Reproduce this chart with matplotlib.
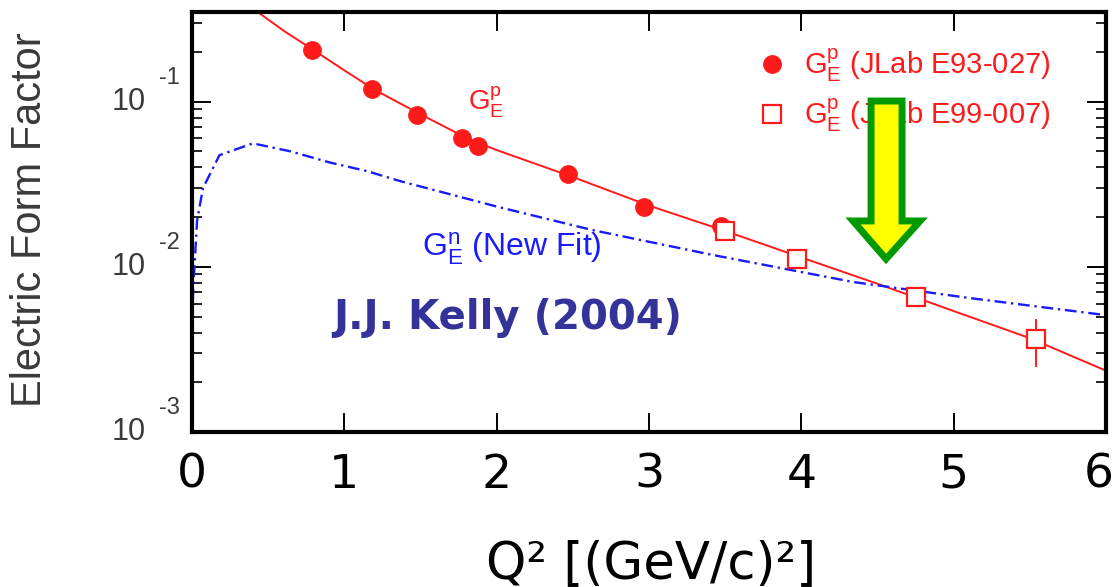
import numpy as np
import matplotlib
matplotlib.use("Agg")
import matplotlib.pyplot as plt
import matplotlib.transforms as mtransforms
from matplotlib.patches import Polygon
from matplotlib.ticker import NullFormatter, LogLocator

# JLab E93-027 recoil polarization data (filled circles)
e93_q2 = [0.79, 1.18, 1.48, 1.77, 1.88, 2.47, 2.97, 3.47]
e93_gep = [0.207, 0.120, 0.0836, 0.060, 0.0538, 0.0366, 0.0229, 0.0176]

# JLab E99-007 data (open squares)
e99_q2 = [3.50, 3.97, 4.75, 5.54]
e99_gep = [0.0164, 0.0112, 0.0066, 0.00366]
e99_err = [0.0004, 0.0004, 0.0005, 0.0012]

# Kelly fit to G_E^p (red line)
fit_q2 = [0.40, 0.45, 0.6, 0.8, 1.0, 1.2, 1.5, 1.8, 2.0, 2.5, 3.0, 3.5, 4.0, 4.5, 5.0, 5.5, 6.0]
fit_gep = [0.37, 0.34, 0.27, 0.205, 0.155, 0.118, 0.084, 0.0605, 0.051, 0.035,
           0.0235, 0.0165, 0.0114, 0.0079, 0.0054, 0.0037, 0.00235]

# new fit to G_E^n (blue dash-dot line)
gen_q2 = [0.002, 0.007, 0.033, 0.072, 0.18, 0.4, 0.65, 0.9, 1.15, 1.37, 2.0, 2.63, 3.42, 4.34, 5.09, 6.0]
gen_val = [0.0045, 0.007, 0.019, 0.030, 0.0475, 0.056, 0.050, 0.043, 0.038, 0.033,
           0.0232, 0.0167, 0.0118, 0.0081, 0.0065, 0.0051]

x_ticks = [0, 1, 2, 3, 4, 5, 6]
y_ticks = [1e-3, 1e-2, 1e-1]
y_exponents = ["-3", "-2", "-1"]

RED = "#ff1a1a"
BLUE = "#1a1aff"
GRAY = "#3a3a3a"

fig = plt.figure(figsize=(11.17, 5.87), dpi=100)
ax = fig.add_axes([0.1719, 0.2641, 0.8183, 0.7155])

ax.plot(fit_q2, fit_gep, color=RED, lw=1.4, zorder=2)
line, = ax.plot(gen_q2, gen_val, color=BLUE, lw=1.7, zorder=2)
line.set_dashes([5, 2, 1, 2])

ax.plot(e93_q2, e93_gep, "o", color=RED, ms=12.5, zorder=3,
        label=r"$\mathregular{G_E^p}$ (JLab E93-027)")
ax.errorbar(e99_q2, e99_gep, yerr=e99_err, fmt="none", ecolor=RED, elinewidth=1.4, zorder=3)
ax.plot(e99_q2, e99_gep, "s", mfc="white", mec=RED, mew=1.6, ms=12.5, zorder=4,
        label=r"$\mathregular{G_E^p}$ (JLab E99-007)")

ax.set_yscale("log")
ax.set_xlim(0, 6)
ax.set_ylim(1e-3, 0.35)

ax.set_xticks(x_ticks)
ax.set_xticklabels([str(t) for t in x_ticks], fontsize=34)
ax.yaxis.set_major_locator(LogLocator(base=10))
ax.yaxis.set_minor_locator(LogLocator(base=10, subs=np.arange(2, 10)))
ax.yaxis.set_major_formatter(NullFormatter())
ax.yaxis.set_minor_formatter(NullFormatter())
ax.tick_params(which="major", direction="in", length=14, width=1.4,
               top=True, right=True, pad=15)
ax.tick_params(which="minor", direction="in", length=7, width=1.2,
               left=True, right=True, top=False, bottom=False)
for s in ax.spines.values():
    s.set_linewidth(3)

# last x label sits a little inside the figure edge, as in the original
last = ax.get_xticklabels()[-1]
last.set_transform(last.get_transform() + mtransforms.ScaledTranslation(-7 / 100, 0, fig.dpi_scale_trans))

# y tick labels drawn as "10" with a raised exponent
trans = mtransforms.blended_transform_factory(ax.transAxes, ax.transData)
for v, e in zip(y_ticks, y_exponents):
    ax.text(-0.051, v, "10", transform=trans, ha="right", va="center",
            fontsize=22, color=GRAY, family="Liberation Sans")
    t = ax.text(-0.036, v, e, transform=trans, ha="left", va="center",
                fontsize=17, color=GRAY, family="Liberation Sans")
    t.set_transform(trans + mtransforms.ScaledTranslation(0, 24 / 100, fig.dpi_scale_trans))

fig.text(0.583, 0.016, "Q² [(GeV/c)²]", fontsize=37, ha="center", va="baseline")
fig.text(0.027, 0.626, "Electric Form Factor", rotation=90, ha="center", va="center",
         fontsize=30, color=GRAY, family="Liberation Sans")

ax.text(1.81, 0.1, r"$\mathregular{G_E^p}$", color=RED, fontsize=20,
        family="Liberation Sans", ha="left", va="center")
ax.text(1.51, 0.0128, r"$\mathregular{G_E^n}$ (New Fit)", color=BLUE, fontsize=23,
        family="Liberation Sans", ha="left", va="center")
ax.text(0.154, 0.271, "J.J. Kelly (2004)", transform=ax.transAxes, color="#333399",
        fontsize=29, fontweight="bold", ha="left", va="center")

ax.legend(loc="upper right", bbox_to_anchor=(0.962, 0.965), frameon=False,
          handlelength=0.8, handletextpad=0.7, labelspacing=0.45, borderpad=0.2,
          prop={"family": "Liberation Sans", "size": 21}, labelcolor=RED)

# yellow arrow pointing at the crossing of G_E^p and G_E^n
arrow = Polygon([(0.7429, 0.788), (0.7768, 0.788), (0.7768, 0.5024), (0.7965, 0.5024),
                 (0.7593, 0.4119), (0.7232, 0.5024), (0.7429, 0.5024)],
                closed=True, transform=ax.transAxes, facecolor="#ffff00",
                edgecolor="#009900", lw=5, joinstyle="miter", zorder=6)
ax.add_patch(arrow)

fig.savefig("out.png", dpi=100)
